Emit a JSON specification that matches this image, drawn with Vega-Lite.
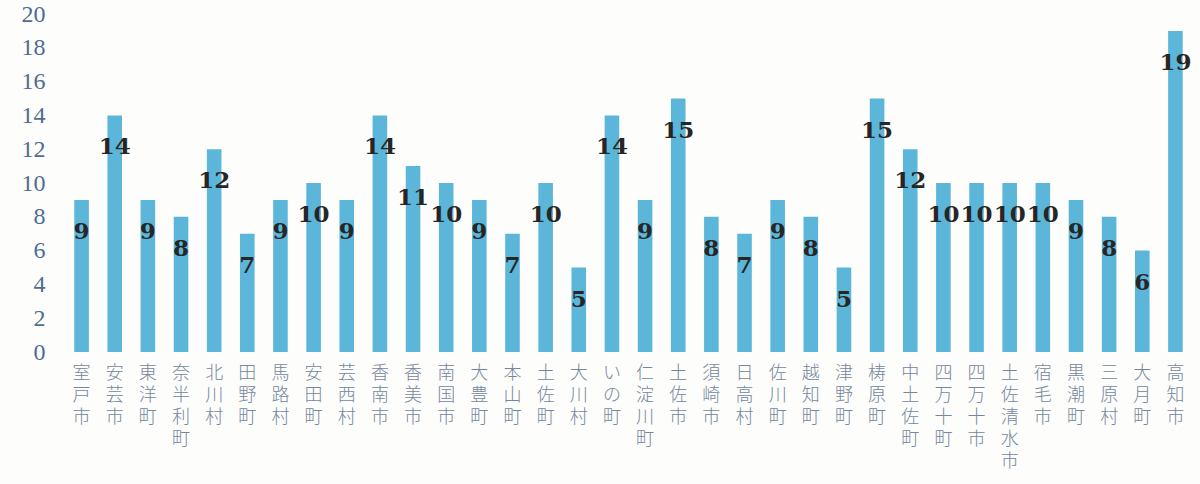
{
  "$schema": "https://vega.github.io/schema/vega-lite/v6.json",
  "width": 1127,
  "height": 338,
  "autosize": "none",
  "padding": {"left": 65, "top": 14, "right": 8, "bottom": 132},
  "background": "#fdfdfb",
  "data": {"values": [
    {"name": "室戸市", "value": 9},
    {"name": "安芸市", "value": 14},
    {"name": "東洋町", "value": 9},
    {"name": "奈半利町", "value": 8},
    {"name": "北川村", "value": 12},
    {"name": "田野町", "value": 7},
    {"name": "馬路村", "value": 9},
    {"name": "安田町", "value": 10},
    {"name": "芸西村", "value": 9},
    {"name": "香南市", "value": 14},
    {"name": "香美市", "value": 11},
    {"name": "南国市", "value": 10},
    {"name": "大豊町", "value": 9},
    {"name": "本山町", "value": 7},
    {"name": "土佐町", "value": 10},
    {"name": "大川村", "value": 5},
    {"name": "いの町", "value": 14},
    {"name": "仁淀川町", "value": 9},
    {"name": "土佐市", "value": 15},
    {"name": "須崎市", "value": 8},
    {"name": "日高村", "value": 7},
    {"name": "佐川町", "value": 9},
    {"name": "越知町", "value": 8},
    {"name": "津野町", "value": 5},
    {"name": "梼原町", "value": 15},
    {"name": "中土佐町", "value": 12},
    {"name": "四万十町", "value": 10},
    {"name": "四万十市", "value": 10},
    {"name": "土佐清水市", "value": 10},
    {"name": "宿毛市", "value": 10},
    {"name": "黒潮町", "value": 9},
    {"name": "三原村", "value": 8},
    {"name": "大月町", "value": 6},
    {"name": "高知市", "value": 19}
  ]},
  "encoding": {
    "x": {
      "field": "name", "type": "nominal", "sort": null,
      "scale": {"paddingInner": 0.56, "paddingOuter": 0.28},
      "axis": {
        "title": null, "domain": false, "ticks": false,
        "labelAngle": 0, "labelBaseline": "top", "labelAlign": "center",
        "labelPadding": 12,
        "labelExpr": "split(datum.label, '')",
        "labelLineHeight": 22,
        "labelFont": "Noto Sans CJK JP", "labelFontSize": 18, "labelFontWeight": 300,
        "labelColor": "#74879c", "labelOverlap": false, "labelLimit": 0
      }
    },
    "y": {
      "field": "value", "type": "quantitative",
      "scale": {"domain": [0, 20], "nice": false},
      "axis": {
        "title": null, "domain": false, "ticks": false, "grid": false,
        "values": [0, 2, 4, 6, 8, 10, 12, 14, 16, 18, 20],
        "labelPadding": 20,
        "labelFont": "Liberation Serif", "labelFontSize": 24,
        "labelColor": "#4f6d8e"
      }
    }
  },
  "layer": [
    {"mark": {"type": "bar", "color": "#5cb6da"}},
    {
      "mark": {"type": "text", "baseline": "middle", "dy": 32,
        "font": "DejaVu Serif", "fontWeight": "bold", "fontSize": 23, "color": "#262626"},
      "encoding": {"text": {"field": "value", "type": "quantitative"}}
    }
  ],
  "config": {"view": {"stroke": null}}
}
